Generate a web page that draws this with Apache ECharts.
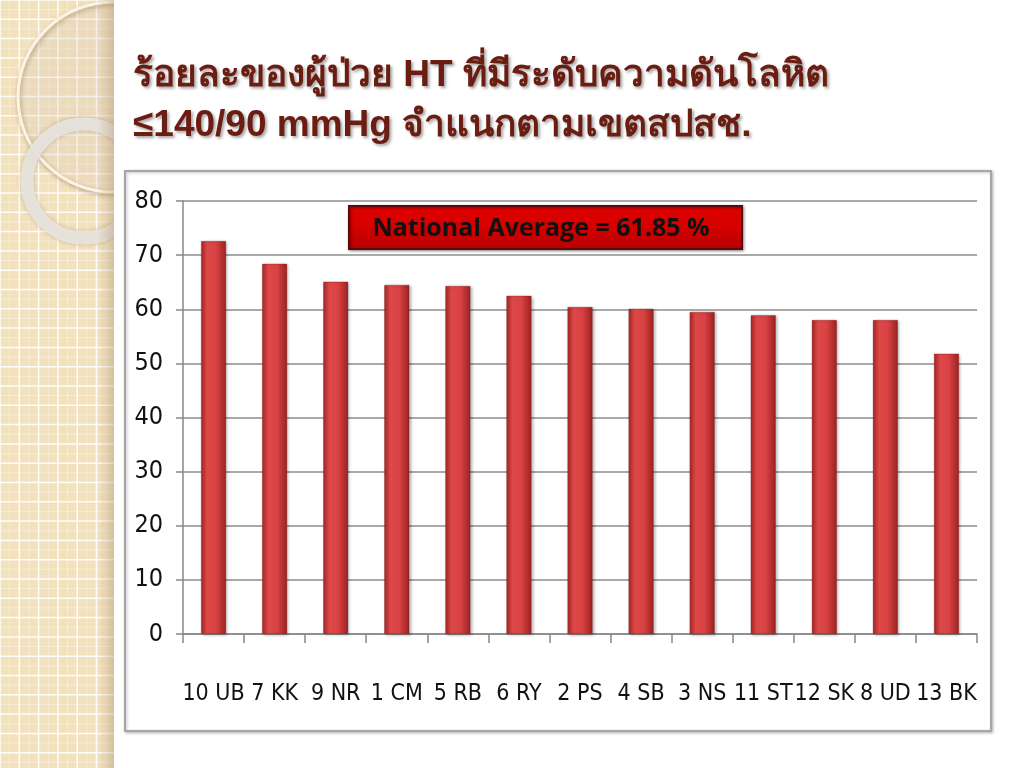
<!DOCTYPE html>
<html><head><meta charset="utf-8">
<script src="https://cdn.jsdelivr.net/npm/echarts@6/dist/echarts.min.js"></script>
<style>html,body{margin:0;padding:0;background:#fff}#c{width:1024px;height:768px}</style>
</head><body><div id="c"></div>
<script>
const categories = ['10 UB','7 KK','9 NR','1 CM','5 RB','6 RY','2 PS','4 SB','3 NS','11 ST','12 SK','8 UD','13 BK'];
const values = [72.6,68.4,65.1,64.5,64.3,62.5,60.4,60.1,59.5,58.9,58.0,58.0,51.8];
const yMin = 0, yMax = 80, yInterval = 10;
const titleText = 'ร้อยละของผู้ป่วย HT ที่มีระดับความดันโลหิต\n≤140/90 mmHg จำแนกตามเขตสปสช.';
const annotationText = 'National Average = 61.85 %';

const chart = echarts.init(document.getElementById('c'), null, {renderer:'canvas'});
const labelFont = '"DejaVu Sans Condensed", "Liberation Sans Narrow", sans-serif';

// decorative left strip
const deco = [];
deco.push({type:'rect', shape:{x:0,y:0,width:114,height:768}, style:{fill:'#f2e1bd'}, z:-10});
for (let x = 0; x < 114; x += 19.3) {
  deco.push({type:'line', shape:{x1:x,y1:0,x2:x,y2:768}, style:{stroke:'rgba(255,255,255,0.9)', lineWidth:1.5}, z:-9});
  deco.push({type:'line', shape:{x1:x+9.6,y1:0,x2:x+9.6,y2:768}, style:{stroke:'rgba(255,255,255,0.35)', lineWidth:1}, z:-9});
}
for (let y = 0; y < 768; y += 19.3) {
  deco.push({type:'line', shape:{x1:0,y1:y,x2:114,y2:y}, style:{stroke:'rgba(255,255,255,0.9)', lineWidth:1.5}, z:-9});
  deco.push({type:'line', shape:{x1:0,y1:y+9.6,x2:114,y2:y+9.6}, style:{stroke:'rgba(255,255,255,0.35)', lineWidth:1}, z:-9});
}
deco.push({type:'circle', shape:{cx:113,cy:97,r:95}, style:{fill:'rgba(255,250,240,0.18)', stroke:'#fbf4e6', lineWidth:3, shadowColor:'rgba(120,90,50,0.5)', shadowBlur:4, shadowOffsetX:1, shadowOffsetY:2}, z:-8});
deco.push({type:'circle', shape:{cx:84,cy:181,r:57}, style:{fill:'none', stroke:'rgba(232,230,225,0.9)', lineWidth:13, shadowColor:'rgba(120,90,50,0.35)', shadowBlur:4}, z:-8});
deco.push({type:'rect', shape:{x:98,y:0,width:16,height:768}, style:{fill:new echarts.graphic.LinearGradient(0,0,1,0,[{offset:0,color:'rgba(160,130,90,0)'},{offset:1,color:'rgba(160,130,90,0.35)'}])}, z:-7});
deco.push({type:'rect', shape:{x:114,y:0,width:910,height:768}, style:{fill:'#ffffff'}, z:-6});
// chart frame
deco.push({type:'rect', shape:{x:125,y:171,width:866,height:560}, style:{fill:'#fff', stroke:'#a6a6a6', lineWidth:2, shadowColor:'rgba(0,0,0,0.25)', shadowBlur:3, shadowOffsetX:1, shadowOffsetY:1}, z:-5});
// annotation box
deco.push({type:'rect', shape:{x:349,y:206,width:393,height:43}, style:{fill:new echarts.graphic.LinearGradient(0,0,0,1,[{offset:0,color:'#e20000'},{offset:0.5,color:'#d40000'},{offset:1,color:'#b80000'}]), stroke:'#5a0a0a', lineWidth:2, shadowColor:'rgba(0,0,0,0.4)', shadowBlur:3, shadowOffsetX:1, shadowOffsetY:1}, z:10});
deco.push({type:'text', x:541, y:229, style:{text:annotationText, fill:'#111', font:'bold 25px "Open Sans", Lato, sans-serif', align:'center', verticalAlign:'middle'}, z:11});

chart.setOption({
  animation:false,
  backgroundColor:'#ffffff',
  title:{
    text:titleText, left:128, top:46,
    textStyle:{fontSize:37, fontWeight:'bold', color:'#6b1d12', lineHeight:50, fontFamily:'"Liberation Sans", Arial, sans-serif',
      textShadowColor:'rgba(0,0,0,0.35)', textShadowBlur:3, textShadowOffsetX:2, textShadowOffsetY:2}
  },
  graphic:{elements:deco},
  grid:{left:183, right:47, top:201, bottom:134, containLabel:false},
  xAxis:{
    type:'category', data:categories,
    axisLine:{show:true, lineStyle:{color:'#888', width:1.5}},
    axisTick:{show:true, length:9, alignWithLabel:false, lineStyle:{color:'#888', width:1.5}},
    axisLabel:{color:'#111', fontSize:23, fontFamily:labelFont, margin:49, interval:0}
  },
  yAxis:{
    type:'value', min:yMin, max:yMax, interval:yInterval,
    axisLine:{show:true, lineStyle:{color:'#888', width:1.5}},
    axisTick:{show:true, length:7, lineStyle:{color:'#888', width:1.5}},
    splitLine:{show:true, lineStyle:{color:'#8c8c8c', width:1.5}},
    axisLabel:{color:'#111', fontSize:25, fontFamily:labelFont, margin:20}
  },
  series:[{
    type:'bar', data:values, barWidth:25,
    itemStyle:{
      color:new echarts.graphic.LinearGradient(0,0,1,0,[
        {offset:0,color:'#a82626'},{offset:0.25,color:'#dd4848'},{offset:0.6,color:'#d84242'},{offset:1,color:'#9c2222'}]),
      borderColor:'rgba(120,20,20,0.6)', borderWidth:0.5,
      shadowColor:'rgba(0,0,0,0.3)', shadowBlur:3, shadowOffsetX:1.5, shadowOffsetY:1
    },
    z:3
  }]
});
</script></body></html>
